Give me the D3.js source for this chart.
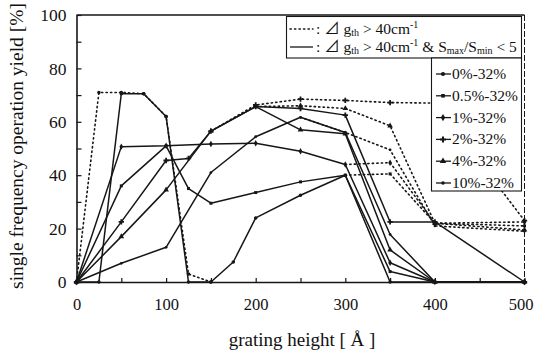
<!DOCTYPE html>
<html><head><meta charset="utf-8">
<script src="https://cdn.jsdelivr.net/npm/d3@7"></script>
<style>
html,body{margin:0;padding:0;background:#fff;}
svg{display:block;}
text{font-family:"Liberation Serif","Times New Roman","Noto Sans CJK JP",serif;fill:#111;}
</style></head><body>
<script>
// grating heights (Å) at which the yield was evaluated
const heights = [0, 25, 50, 75, 100, 125, 150, 175, 200, 250, 300, 350, 400, 500];
const seriesNames = ["0%-32%", "0.5%-32%", "1%-32%", "2%-32%", "4%-32%", "10%-32%"];

// yield [%] with both conditions (Δg_th > 40 cm^-1 and Smax/Smin < 5) — solid lines
const n = null;
const both0  = [0, 0, 70.5, 70.5, 62, 0, 0, 7.5, 24, 32.5, 40, 0, 0, 0];
const both05 = [0, n, 36, n, 51, 35, 29.5, n, 33.5, 37.5, 40, 3.9, 0, 0];
const both1  = [0, n, 50.7, n, 51, n, 51.7, n, 52, 49, 44, 7.2, 0, 0];
const both2  = [0, n, 22.5, n, 45.5, 46.3, 56.5, n, 65.7, 65, 62.5, 22.5, 22.5, 0];
const both4  = [0, n, 17, n, 34.5, n, 56.5, n, 65.7, 57, 55.5, 12, 0, 0];
const both10 = [0, n, 7, n, 13, n, 41, n, 54.4, 61.7, 56, 17.8, 0, 0];

// yield [%] with the Δg_th condition only — dotted lines (where it differs)
const gain0  = [0, 71, 71, 70.5, 62, 3, 0, n, n, n, n, n, n, n];
const gain05 = [n, n, n, n, n, n, n, n, n, n, 40, 40.5, 22, 21];
const gain1  = [n, n, n, n, n, n, n, n, n, n, 44, 44.7, 22, 22.5];
const gain2  = [n, n, n, n, n, n, 56.5, n, 66.3, 68.5, 68, 67.2, 67, 23];
const gain4  = [n, n, n, n, n, n, n, n, 65.7, 66, 65, 58.5, 22, 19.5];
const gain10 = [n, n, n, n, n, n, n, n, n, 61.7, 56, 49.5, 21, 19];

const yTicks = [0, 20, 40, 60, 80, 100];
const xTicks = [0, 100, 200, 300, 400, 500];

const bothSets = [both0, both05, both1, both2, both4, both10];
const gainSets = [gain0, gain05, gain1, gain2, gain4, gain10];
const symbols = [d3.symbolCircle, d3.symbolSquare, d3.symbolDiamond, d3.symbolCross, d3.symbolTriangle, d3.symbolCircle];
const symSizes = [10, 9, 12, 16, 14, 6];

const W = 536, H = 354;
const svg = d3.select("body").append("svg").attr("width", W).attr("height", H);

const x = d3.scaleLinear().domain([0, 500]).range([76.5, 524.5]);
const y = d3.scaleLinear().domain([0, 100]).range([282, 15]);
const ink = "#161616";

// frame
svg.append("line").attr("x1", x(0)).attr("x2", x(500)).attr("y1", y(100)).attr("y2", y(100))
  .attr("stroke", ink).attr("stroke-width", 1.3);
svg.append("line").attr("x1", x(500)).attr("x2", x(500)).attr("y1", y(100)).attr("y2", y(0))
  .attr("stroke", ink).attr("stroke-width", 1).attr("stroke-dasharray", "6,2");

// axes
const yAxis = d3.axisLeft(y).tickValues(d3.range(0, 101, 10))
  .tickSizeInner(-5).tickSizeOuter(0).tickPadding(10)
  .tickFormat(d => yTicks.includes(d) ? d : "");
const gy = svg.append("g").attr("transform", `translate(${x(0)},0)`).call(yAxis);
gy.select(".domain").attr("stroke", ink).attr("stroke-width", 1.6);
gy.selectAll(".tick line").attr("stroke", ink).attr("stroke-width", 1.2);
gy.selectAll("text").attr("font-size", 17.5).attr("fill", ink)
  .style("font-family", "Liberation Serif, serif");

const xAxis = d3.axisBottom(x).tickValues(d3.range(0, 501, 50))
  .tickSizeInner(-4).tickSizeOuter(0).tickPadding(16)
  .tickFormat(d => xTicks.includes(d) ? d : "");
const gx = svg.append("g").attr("transform", `translate(0,${y(0)})`).call(xAxis);
gx.select(".domain").attr("stroke", ink).attr("stroke-width", 1.6);
gx.selectAll(".tick line").attr("stroke", ink).attr("stroke-width", 1.2);
gx.selectAll("text").attr("font-size", 16.5).attr("fill", ink)
  .style("font-family", "Liberation Serif, serif")
  .attr("dx", d => d === 500 ? -4 : 0);

// axis titles
svg.append("text").attr("x", 302).attr("y", 346).attr("text-anchor", "middle")
  .attr("font-size", 19).text("grating height [ Å ]");
svg.append("text").attr("transform", "translate(23,146) rotate(-90)")
  .attr("text-anchor", "middle").attr("font-size", 19.5)
  .text("single frequency operation yield [%]");

const line = d3.line().x(d => x(d[0])).y(d => y(d[1]));
const pts = arr => heights.map((h, i) => [h, arr[i]]).filter(d => d[1] !== null);

// dotted curves
gainSets.forEach((arr, k) => {
  const p = pts(arr);
  svg.append("path").attr("d", line(p)).attr("fill", "none")
    .attr("stroke", ink).attr("stroke-width", 1.6)
    .attr("stroke-dasharray", "1.3,3.2").attr("stroke-linecap", "round");
  svg.append("g").selectAll("path").data(p.slice(1)).join("path")
    .attr("transform", d => `translate(${x(d[0])},${y(d[1])})`)
    .attr("d", d3.symbol(symbols[k], symSizes[k])).attr("fill", ink);
});

// solid curves
bothSets.forEach((arr, k) => {
  const p = pts(arr);
  svg.append("path").attr("d", line(p)).attr("fill", "none")
    .attr("stroke", ink).attr("stroke-width", 1.5).attr("stroke-linejoin", "round");
  svg.append("g").selectAll("path").data(p).join("path")
    .attr("transform", d => `translate(${x(d[0])},${y(d[1])})`)
    .attr("d", d3.symbol(symbols[k], symSizes[k])).attr("fill", ink);
});

// legend: line styles
const lg1 = svg.append("g");
lg1.append("rect").attr("x", 286.5).attr("y", 16.5).attr("width", 235).attr("height", 41.5)
  .attr("fill", "#fff").attr("stroke", ink).attr("stroke-width", 1.1);
lg1.append("line").attr("x1", 290).attr("x2", 313).attr("y1", 29).attr("y2", 29)
  .attr("stroke", ink).attr("stroke-width", 1.5).attr("stroke-dasharray", "1.3,3.2").attr("stroke-linecap", "round");
lg1.append("line").attr("x1", 290).attr("x2", 313).attr("y1", 47).attr("y2", 47)
  .attr("stroke", ink).attr("stroke-width", 1.3);
const t1 = lg1.append("text").attr("x", 316).attr("y", 34).attr("font-size", 15.5);
t1.append("tspan").text(": ⊿ g");
t1.append("tspan").attr("font-size", 10).attr("dy", 2).text("th");
t1.append("tspan").attr("dy", -2).text(" > 40cm");
t1.append("tspan").attr("font-size", 10).attr("dy", -6).text("-1");
const t2 = lg1.append("text").attr("x", 316).attr("y", 52).attr("font-size", 15.5);
t2.append("tspan").text(": ⊿ g");
t2.append("tspan").attr("font-size", 10).attr("dy", 2).text("th");
t2.append("tspan").attr("dy", -2).text(" > 40cm");
t2.append("tspan").attr("font-size", 10).attr("dy", -6).text("-1");
t2.append("tspan").attr("dy", 6).text(" & S");
t2.append("tspan").attr("font-size", 10).attr("dy", 2).text("max");
t2.append("tspan").attr("dy", -2).text("/S");
t2.append("tspan").attr("font-size", 10).attr("dy", 2).text("min");
t2.append("tspan").attr("dy", -2).text(" < 5");

// legend: series
const lg2 = svg.append("g");
lg2.append("rect").attr("x", 431.5).attr("y", 58).attr("width", 90).attr("height", 133)
  .attr("fill", "#fff").attr("stroke", ink).attr("stroke-width", 1.1);
const rowY = d3.scalePoint().domain(seriesNames).range([74, 183]);
seriesNames.forEach((name, k) => {
  const cy = rowY(name);
  lg2.append("line").attr("x1", 436).attr("x2", 451).attr("y1", cy).attr("y2", cy)
    .attr("stroke", ink).attr("stroke-width", 1.3);
  lg2.append("path").attr("transform", `translate(443,${cy})`)
    .attr("d", d3.symbol(symbols[k], symSizes[k] + 4)).attr("fill", ink);
  lg2.append("text").attr("x", 452).attr("y", cy + 5).attr("font-size", 15.5).text(name);
});
</script>
</body></html>
